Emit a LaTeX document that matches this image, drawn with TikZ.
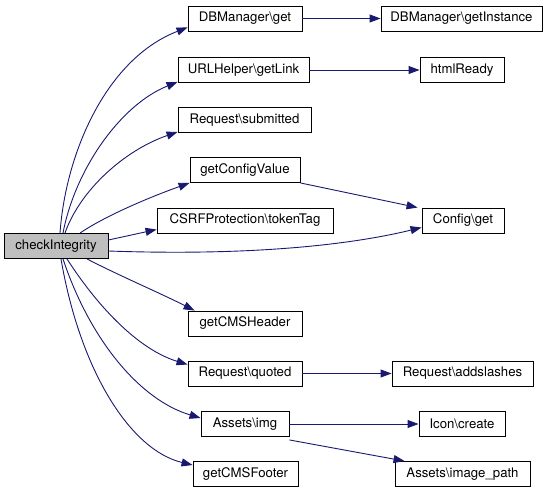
\documentclass[tikz,border=0pt]{standalone}
\usepackage{fontspec}
\setmainfont{TeX Gyre Heros}
\usetikzlibrary{arrows.meta}
\definecolor{edgeblue}{HTML}{191970}
\definecolor{hlgray}{HTML}{BFBFBF}
\begin{document}
\begin{tikzpicture}[x=1pt,y=-1pt,
  fn/.style={draw=black,line width=0.9pt,fill=white,rectangle,minimum height=25pt,inner sep=0pt,
    font=\fontsize{13.2}{15}\selectfont},
  edge/.style={draw=edgeblue,line width=0.9pt,-{Triangle[length=11pt,width=8pt]}}]
\useasboundingbox (0,0) rectangle (549,493);
\node[fn,fill=hlgray,minimum width=104pt] (cI) at (56,246) {checkIntegrity};
\node[fn,minimum width=114pt] (dbget) at (245,18.5) {DBManager\textbackslash get};
\node[fn,minimum width=161pt] (dbinst) at (461.5,18.5) {DBManager\textbackslash getInstance};
\node[fn,minimum width=131pt] (url) at (243.5,70) {URLHelper\textbackslash getLink};
\node[fn,minimum width=84pt] (html) at (462,70) {htmlReady};
\node[fn,minimum width=133pt] (sub) at (244.5,120) {Request\textbackslash submitted};
\node[fn,minimum width=110pt] (gcv) at (245,170) {getConfigValue};
\node[fn,minimum width=176pt] (csrf) at (245,220.5) {CSRFProtection\textbackslash tokenTag};
\node[fn,minimum width=82pt] (cfg) at (463,220.5) {Config\textbackslash get};
\node[fn,minimum width=114pt] (hdr) at (245,323.5) {getCMSHeader};
\node[fn,minimum width=114pt] (quo) at (245,373.5) {Request\textbackslash quoted};
\node[fn,minimum width=141pt] (add) at (462.5,373.5) {Request\textbackslash addslashes};
\node[fn,minimum width=88pt] (img) at (245,424) {Assets\textbackslash img};
\node[fn,minimum width=86pt] (icon) at (462,424) {Icon\textbackslash create};
\node[fn,minimum width=105pt] (ftr) at (245.5,474) {getCMSFooter};
\node[fn,minimum width=135pt] (ipath) at (462.5,474) {Assets\textbackslash image\_path};

% fan from checkIntegrity (top)
\draw[edge] ([xshift=4pt]cI.north) .. controls (66,150) and (108,58) .. ([yshift=4pt]dbget.south west);
\draw[edge] ([xshift=7pt]cI.north) .. controls (75,170) and (120,105) .. ([yshift=1pt]url.south west);
\draw[edge] ([xshift=9pt]cI.north) .. controls (80,190) and (125,150) .. ([yshift=1pt]sub.south west);
\draw[edge] ([xshift=24pt]cI.north) .. controls (105,216) and (150,197) .. (gcv.south west);
\draw[edge] ([yshift=6pt]cI.east) -- ([yshift=-9pt]csrf.west);
\draw[edge] ([yshift=-5pt]cI.east) .. controls (250,256) and (350,245) .. ([yshift=-7pt]cfg.west);
% fan from checkIntegrity (bottom)
\draw[edge] ([xshift=31pt]cI.south) .. controls (120,276) and (160,293) .. ([xshift=7pt]hdr.north west);
\draw[edge] ([xshift=11pt]cI.south) .. controls (100,310) and (140,350) .. ([yshift=9pt]quo.west);
\draw[edge] ([xshift=7pt]cI.south) .. controls (90,340) and (140,400) .. ([yshift=6pt]img.west);
\draw[edge] ([xshift=5pt]cI.south) .. controls (80,370) and (130,450) .. ([yshift=9pt]ftr.west);
% second level
\draw[edge] (dbget) -- (dbinst);
\draw[edge] (url) -- (html);
\draw[edge] (gcv.south east) -- ([xshift=-4pt]cfg.north west);
\draw[edge] (quo) -- (add);
\draw[edge] (img) -- (icon);
\draw[edge] ([yshift=-3pt]img.south east) -- ([xshift=10pt]ipath.north west);
\end{tikzpicture}
\end{document}
